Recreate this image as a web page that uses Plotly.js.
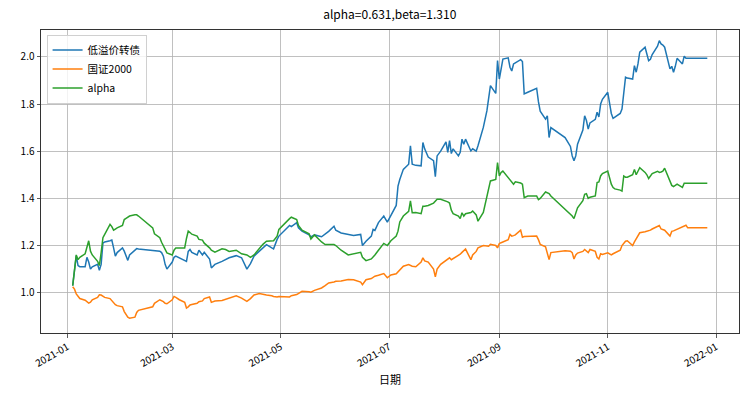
<!DOCTYPE html>
<html>
<head>
<meta charset="utf-8">
<script src="https://cdn.plot.ly/plotly-3.0.1.min.js"></script>
<style>html,body{margin:0;padding:0;background:#fff;}#chart{width:751px;height:394px;}</style>
</head>
<body>
<div id="chart"></div>
<script>
const dates = [
'2021-01-04','2021-01-05','2021-01-06','2021-01-07','2021-01-08','2021-01-11','2021-01-12','2021-01-13','2021-01-14','2021-01-15',
'2021-01-18','2021-01-19','2021-01-20','2021-01-21','2021-01-22','2021-01-25','2021-01-26','2021-01-27','2021-01-28','2021-01-29',
'2021-02-01','2021-02-02','2021-02-03','2021-02-04','2021-02-05','2021-02-08','2021-02-09','2021-02-10','2021-02-18','2021-02-19',
'2021-02-22','2021-02-23','2021-02-24','2021-02-25','2021-02-26','2021-03-01','2021-03-02','2021-03-03','2021-03-05','2021-03-08',
'2021-03-09','2021-03-10','2021-03-11','2021-03-12','2021-03-15','2021-03-16','2021-03-18','2021-03-19','2021-03-22','2021-03-23',
'2021-03-25','2021-03-29','2021-03-31','2021-04-02','2021-04-06','2021-04-09','2021-04-12','2021-04-14','2021-04-16','2021-04-19',
'2021-04-21','2021-04-23','2021-04-26','2021-04-27','2021-04-29','2021-04-30','2021-05-06','2021-05-07','2021-05-10','2021-05-11',
'2021-05-13','2021-05-17','2021-05-18','2021-05-20','2021-05-24','2021-05-26','2021-05-28','2021-05-31','2021-06-01','2021-06-04',
'2021-06-08','2021-06-11','2021-06-15','2021-06-16','2021-06-18','2021-06-21','2021-06-22','2021-06-23','2021-06-25','2021-06-28',
'2021-06-30','2021-07-02','2021-07-05','2021-07-06','2021-07-07','2021-07-09','2021-07-12','2021-07-13','2021-07-14','2021-07-16',
'2021-07-19','2021-07-20','2021-07-21','2021-07-23','2021-07-26','2021-07-27','2021-07-28','2021-07-30','2021-08-02','2021-08-03',
'2021-08-04','2021-08-05','2021-08-06','2021-08-09','2021-08-10','2021-08-11','2021-08-12','2021-08-13','2021-08-16','2021-08-17',
'2021-08-19','2021-08-20','2021-08-23','2021-08-25','2021-08-26','2021-08-27','2021-08-30','2021-08-31','2021-09-01','2021-09-02',
'2021-09-03','2021-09-06','2021-09-07','2021-09-08','2021-09-09','2021-09-10','2021-09-13','2021-09-14','2021-09-15','2021-09-17',
'2021-09-22','2021-09-23','2021-09-24','2021-09-27','2021-09-28','2021-09-29','2021-09-30','2021-10-08','2021-10-11','2021-10-12',
'2021-10-13','2021-10-14','2021-10-15','2021-10-18','2021-10-19','2021-10-20','2021-10-21','2021-10-22','2021-10-25','2021-10-26',
'2021-10-27','2021-10-28','2021-10-29','2021-11-01','2021-11-02','2021-11-03','2021-11-04','2021-11-05','2021-11-08','2021-11-09',
'2021-11-10','2021-11-11','2021-11-12','2021-11-15','2021-11-16','2021-11-17','2021-11-18','2021-11-19','2021-11-22','2021-11-23',
'2021-11-24','2021-11-25','2021-11-26','2021-11-29','2021-11-30','2021-12-01','2021-12-02','2021-12-03','2021-12-06','2021-12-07',
'2021-12-08','2021-12-09','2021-12-10','2021-12-13','2021-12-14','2021-12-15','2021-12-16','2021-12-17','2021-12-20','2021-12-21',
'2021-12-22','2021-12-23','2021-12-24','2021-12-27'
];

const lowPremiumCB = [
1.03,1.11,1.157,1.115,1.11,1.11,1.15,1.13,1.10,1.11,
1.12,1.095,1.12,1.21,1.215,1.22,1.223,1.19,1.155,1.17,
1.19,1.176,1.155,1.137,1.16,1.18,1.187,1.185,1.178,1.178,
1.176,1.17,1.155,1.12,1.10,1.13,1.15,1.155,1.148,1.14,
1.133,1.175,1.183,1.171,1.16,1.18,1.16,1.171,1.143,1.105,
1.12,1.133,1.14,1.148,1.157,1.148,1.10,1.123,1.155,1.176,
1.19,1.204,1.19,1.186,1.226,1.24,1.285,1.28,1.297,1.275,
1.261,1.245,1.237,1.245,1.237,1.247,1.26,1.282,1.265,1.253,
1.247,1.243,1.247,1.20,1.218,1.24,1.268,1.264,1.297,1.325,
1.299,1.33,1.37,1.452,1.48,1.523,1.545,1.623,1.545,1.54,
1.538,1.637,1.61,1.575,1.56,1.492,1.58,1.60,1.64,1.595,
1.645,1.59,1.61,1.58,1.595,1.651,1.63,1.651,1.601,1.61,
1.60,1.623,1.701,1.771,1.82,1.878,1.845,1.984,1.906,1.95,
1.991,1.996,1.956,1.94,1.97,1.975,1.988,1.98,1.843,1.85,
1.867,1.81,1.77,1.736,1.75,1.658,1.70,1.658,1.62,1.58,
1.559,1.58,1.63,1.69,1.75,1.73,1.694,1.72,1.735,1.765,
1.745,1.80,1.82,1.85,1.793,1.76,1.739,1.745,1.76,1.779,
1.85,1.914,1.91,1.906,1.963,1.935,1.97,2.02,2.041,2.01,
1.984,1.99,2.01,2.045,2.069,2.055,2.05,2.041,1.949,1.96,
1.935,1.96,1.994,1.97,2.003,1.994,1.994,1.994,1.994,1.994,
1.994,1.994,1.994,1.994
];

const csi2000 = [
1.025,1.015,0.995,0.982,0.975,0.968,0.962,0.956,0.96,0.97,
0.98,0.991,0.99,0.985,0.98,0.975,0.965,0.955,0.949,0.945,
0.94,0.92,0.905,0.896,0.892,0.896,0.916,0.925,0.94,0.955,
0.97,0.967,0.962,0.955,0.953,0.97,0.984,0.98,0.97,0.959,
0.935,0.94,0.948,0.95,0.955,0.962,0.965,0.975,0.982,0.959,
0.965,0.967,0.972,0.975,0.987,0.977,0.963,0.975,0.99,0.996,
0.992,0.99,0.987,0.984,0.982,0.984,0.982,0.987,0.992,0.997,
1.006,1.004,1.002,1.01,1.02,1.03,1.041,1.045,1.048,1.05,
1.056,1.055,1.045,1.034,1.055,1.06,1.065,1.07,1.074,1.081,
1.063,1.075,1.08,1.088,1.10,1.112,1.119,1.115,1.112,1.11,
1.13,1.148,1.135,1.13,1.10,1.067,1.10,1.12,1.135,1.14,
1.148,1.14,1.145,1.157,1.163,1.171,1.178,1.185,1.14,1.16,
1.175,1.19,1.20,1.198,1.197,1.205,1.20,1.19,1.208,1.212,
1.215,1.225,1.247,1.24,1.242,1.245,1.265,1.235,1.238,1.238,
1.24,1.225,1.205,1.195,1.17,1.14,1.17,1.178,1.176,1.17,
1.143,1.16,1.168,1.175,1.183,1.178,1.17,1.183,1.175,1.15,
1.143,1.165,1.162,1.169,1.165,1.16,1.165,1.169,1.18,1.20,
1.21,1.218,1.22,1.20,1.215,1.23,1.24,1.254,1.258,1.26,
1.262,1.265,1.27,1.28,1.285,1.27,1.268,1.265,1.24,1.26,
1.262,1.265,1.268,1.278,1.282,1.286,1.275,1.275,1.275,1.275,
1.275,1.275,1.275,1.275
];

const alphaSeries = [
1.03,1.10,1.16,1.14,1.15,1.165,1.20,1.22,1.176,1.16,
1.133,1.115,1.17,1.233,1.247,1.29,1.28,1.265,1.27,1.275,
1.285,1.31,1.315,1.32,1.325,1.33,1.33,1.325,1.275,1.25,
1.233,1.214,1.20,1.18,1.169,1.16,1.18,1.19,1.19,1.19,
1.23,1.261,1.255,1.248,1.24,1.226,1.223,1.21,1.19,1.18,
1.172,1.186,1.183,1.175,1.18,1.165,1.16,1.15,1.16,1.19,
1.205,1.218,1.22,1.22,1.24,1.268,1.314,1.32,1.31,1.285,
1.265,1.25,1.228,1.245,1.215,1.204,1.204,1.204,1.20,1.18,
1.16,1.165,1.171,1.15,1.136,1.143,1.15,1.16,1.18,1.209,
1.20,1.22,1.24,1.261,1.30,1.325,1.345,1.389,1.339,1.34,
1.335,1.367,1.367,1.37,1.38,1.39,1.396,1.396,1.39,1.385,
1.38,1.35,1.335,1.325,1.314,1.339,1.325,1.335,1.34,1.346,
1.33,1.303,1.34,1.403,1.43,1.474,1.48,1.552,1.495,1.51,
1.516,1.488,1.475,1.467,1.46,1.47,1.465,1.46,1.403,1.41,
1.41,1.395,1.40,1.427,1.425,1.42,1.41,1.353,1.335,1.325,
1.314,1.34,1.36,1.39,1.417,1.42,1.40,1.405,1.41,1.467,
1.47,1.495,1.505,1.516,1.488,1.46,1.446,1.44,1.435,1.431,
1.495,1.49,1.49,1.50,1.523,1.50,1.515,1.53,1.51,1.50,
1.484,1.495,1.505,1.515,1.51,1.512,1.515,1.528,1.47,1.455,
1.45,1.455,1.46,1.446,1.464,1.464,1.464,1.464,1.464,1.464,
1.464,1.464,1.464,1.464
];

const seriesNames = ['低溢价转债', '国证2000', 'alpha'];
const chartTitle = 'alpha=0.631,beta=1.310';
const xTitle = '日期';

const FONT = '"Noto Sans CJK SC", "DejaVu Sans", sans-serif';
const colors = ['#1f77b4', '#ff7f0e', '#2ca02c'];
const values = [lowPremiumCB, csi2000, alphaSeries];

const traces = values.map((v, i) => ({
  x: dates, y: v, type: 'scatter', mode: 'lines', name: seriesNames[i],
  line: {color: colors[i], width: 1.5}
}));

const axisCommon = {
  showline: true, mirror: true, linecolor: '#333', linewidth: 1,
  ticks: 'outside', ticklen: 3.5, tickwidth: 0.8, tickcolor: '#333',
  showgrid: true, gridcolor: '#b0b0b0', gridwidth: 0.8, zeroline: false,
  tickfont: {family: FONT, size: 10, color: '#000'}
};

const layout = {
  width: 751, height: 394,
  margin: {l: 41, r: 12, t: 30, b: 61},
  paper_bgcolor: '#fff', plot_bgcolor: '#fff',
  font: {family: FONT, size: 10, color: '#000'},
  title: {text: chartTitle, x: 0.519, xanchor: 'center', y: 0.962, yanchor: 'middle',
          font: {family: FONT, size: 12, color: '#000'}},
  showlegend: true,
  legend: {x: 0.008, y: 0.985, xanchor: 'left', yanchor: 'top',
           bgcolor: 'rgba(255,255,255,0.8)', bordercolor: '#d0d0d0', borderwidth: 1,
           font: {family: FONT, size: 10.5, color: '#000'}, tracegroupgap: 0},
  xaxis: Object.assign({}, axisCommon, {
    type: 'date',
    range: ['2020-12-17 04:00', '2022-01-13 20:00'],
    tick0: '2021-01-01', dtick: 'M2', tickformat: '%Y-%m', tickangle: -30,
    title: {text: xTitle, font: {family: FONT, size: 11, color: '#000'}, standoff: 7}
  }),
  yaxis: Object.assign({}, axisCommon, {
    range: [0.829, 2.114],
    tick0: 1.0, dtick: 0.2, tickformat: '.1f'
  })
};

Plotly.newPlot('chart', traces, layout, {displayModeBar: false, staticPlot: true});
</script>
</body>
</html>
